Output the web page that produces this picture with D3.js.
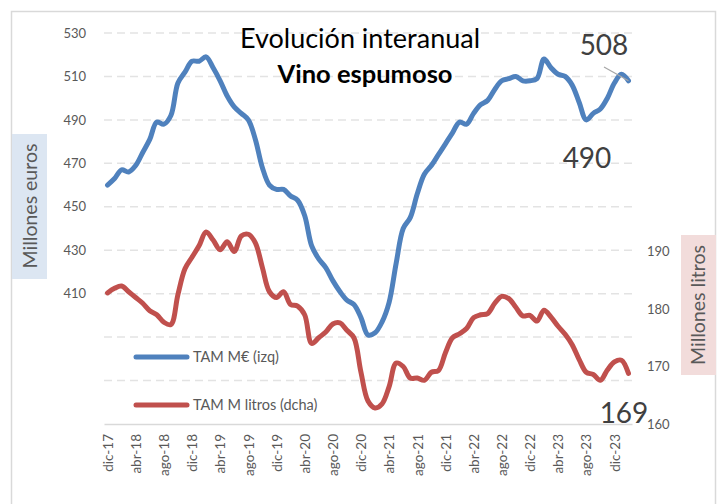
<!DOCTYPE html>
<html>
<head>
<meta charset="utf-8">
<script src="https://cdn.jsdelivr.net/npm/d3@7"></script>
<style>
  body { margin: 0; background: #fff; }
  svg text { font-family: Lato, "Liberation Sans", sans-serif; }
</style>
</head>
<body>
<div id="chart"></div>
<script>

// meses dic-17 .. feb-24
var months = ["dic-17",
  "ene-18","feb-18","mar-18","abr-18","may-18","jun-18","jul-18","ago-18","sep-18","oct-18","nov-18","dic-18",
  "ene-19","feb-19","mar-19","abr-19","may-19","jun-19","jul-19","ago-19","sep-19","oct-19","nov-19","dic-19",
  "ene-20","feb-20","mar-20","abr-20","may-20","jun-20","jul-20","ago-20","sep-20","oct-20","nov-20","dic-20",
  "ene-21","feb-21","mar-21","abr-21","may-21","jun-21","jul-21","ago-21","sep-21","oct-21","nov-21","dic-21",
  "ene-22","feb-22","mar-22","abr-22","may-22","jun-22","jul-22","ago-22","sep-22","oct-22","nov-22","dic-22",
  "ene-23","feb-23","mar-23","abr-23","may-23","jun-23","jul-23","ago-23","sep-23","oct-23","nov-23","dic-23",
  "ene-24","feb-24"];

var tickLabels = ["dic-17","abr-18","ago-18","dic-18","abr-19","ago-19","dic-19","abr-20","ago-20",
  "dic-20","abr-21","ago-21","dic-21","abr-22","ago-22","dic-22","abr-23","ago-23","dic-23"];

// TAM M€ (izq)
var euros = [460, 463, 467, 466, 469, 475, 481, 489, 488, 492, 507, 512, 517,
  517, 519, 514, 508, 501, 496, 493, 490, 481, 468, 460, 458,
  458, 455, 453, 446, 432, 426, 422, 416, 411, 407, 405, 399,
  391, 392, 397, 406, 424, 440, 445, 456, 465, 469, 474, 479,
  484, 489, 488, 493, 497, 499, 504, 508, 509, 510, 508, 508,
  509, 518, 514, 511, 510, 506, 498, 490, 493, 495, 500, 507,
  511, 508];

// TAM M litros (dcha)
var litros = [182.8, 183.6, 184, 183, 182, 181, 179.7, 179, 177.7, 177.3, 182.5, 187, 189,
  191, 193.4, 192, 190.3, 191.7, 190, 192.7, 193, 191.5, 187.2, 183, 182,
  183, 180.8, 180.5, 179, 174, 175, 176, 177.4, 177.6, 176.3, 175, 169,
  164, 162.8, 163.5, 166.5, 170.6, 170, 168, 168, 167.6, 169, 169.3, 172.4,
  175, 175.7, 176.6, 178.5, 179, 179.2, 181, 182.2, 181.8, 180.3, 178.8, 178.9,
  177.9, 179.8, 178.6, 177, 175.6, 173.8, 171.2, 169, 168.6, 167.6, 169.4, 170.8,
  171.1, 168.8];

var leftTicks = [350, 370, 390, 410, 430, 450, 470, 490, 510, 530];
var leftLabels = [410, 430, 450, 470, 490, 510, 530];
var rightTicks = [160, 170, 180, 190];

var width = 718, height = 504;
var blue = "#4f81bd", red = "#c0504d", grey = "#595959";

var svg = d3.select("#chart").append("svg")
    .attr("width", width)
    .attr("height", height);

// marco
svg.append("rect")
    .attr("x", 11.5).attr("y", 11.5)
    .attr("width", 704).attr("height", 500)
    .attr("fill", "#fff")
    .attr("stroke", "#d9d9d9")
    .attr("stroke-width", 1.5);

var x = d3.scalePoint().domain(months).range([104, 632]).padding(0.5);
var yL = d3.scaleLinear().domain([350, 530]).range([424, 33]);
var yR = d3.scaleLinear().domain([160, 190]).range([424, 251.5]);

// rejilla
svg.append("g").selectAll("line")
    .data(leftTicks.slice(1))
    .enter().append("line")
    .attr("x1", 104).attr("x2", 632)
    .attr("y1", function(d) { return yL(d); })
    .attr("y2", function(d) { return yL(d); })
    .attr("stroke", "#e3e3e3")
    .attr("stroke-width", 1.5)
    .attr("stroke-dasharray", "8,5");

// eje x
var xAxis = d3.axisBottom(x)
    .tickValues(tickLabels)
    .tickSize(0)
    .tickPadding(0);
var gx = svg.append("g")
    .attr("transform", "translate(0,424)")
    .call(xAxis);
gx.select(".domain").attr("stroke", "#d9d9d9").attr("stroke-width", 1.5);
gx.selectAll("text")
    .attr("transform", "rotate(-90)")
    .attr("x", -10).attr("y", 0).attr("dy", "0.35em")
    .style("text-anchor", "end")
    .attr("fill", grey)
    .style("font-size", "13.5px");

// eje izq
var gl = svg.append("g")
    .attr("transform", "translate(86,0)")
    .call(d3.axisLeft(yL).tickValues(leftLabels).tickSize(0).tickPadding(0));
gl.select(".domain").remove();
gl.selectAll("text").attr("fill", grey).style("font-size", "13px");

// eje dcha
var gr = svg.append("g")
    .attr("transform", "translate(647,0)")
    .call(d3.axisRight(yR).tickValues(rightTicks).tickSize(0).tickPadding(0));
gr.select(".domain").remove();
gr.selectAll("text").attr("fill", grey).style("font-size", "13px");

// titulos de ejes
svg.append("rect").attr("x", 12).attr("y", 134).attr("width", 35).attr("height", 145).attr("fill", "#dce6f2");
svg.append("text")
    .attr("transform", "translate(37,206) rotate(-90)")
    .attr("text-anchor", "middle")
    .attr("fill", grey)
    .style("font-size", "19.5px")
    .text("Millones euros");

svg.append("rect").attr("x", 681).attr("y", 235).attr("width", 35).attr("height", 140).attr("fill", "#f2dcdb");
svg.append("text")
    .attr("transform", "translate(705,305) rotate(-90)")
    .attr("text-anchor", "middle")
    .attr("fill", grey)
    .style("font-size", "19.5px")
    .text("Millones litros");

// lineas
var lineL = d3.line()
    .x(function(d, i) { return x(months[i]); })
    .y(function(d) { return yL(d); })
    .curve(d3.curveCatmullRom);
var lineR = d3.line()
    .x(function(d, i) { return x(months[i]); })
    .y(function(d) { return yR(d); })
    .curve(d3.curveCatmullRom);

svg.append("path").datum(litros)
    .attr("d", lineR)
    .attr("fill", "none").attr("stroke", red)
    .attr("stroke-width", 5).attr("stroke-linecap", "round").attr("stroke-linejoin", "round");
svg.append("path").datum(euros)
    .attr("d", lineL)
    .attr("fill", "none").attr("stroke", blue)
    .attr("stroke-width", 5).attr("stroke-linecap", "round").attr("stroke-linejoin", "round");

// titulo
svg.append("text")
    .attr("x", 360).attr("y", 48)
    .attr("text-anchor", "middle")
    .style("font-size", "27px")
    .attr("fill", "#000")
    .text("Evolución interanual");
svg.append("text")
    .attr("x", 365).attr("y", 83)
    .attr("text-anchor", "middle")
    .style("font-size", "25.5px")
    .style("font-weight", "bold")
    .attr("fill", "#000")
    .text("Vino espumoso");

// leyenda
var legend = [{name: "TAM M€ (izq)", color: blue, y: 357}, {name: "TAM M litros (dcha)", color: red, y: 405}];
var lg = svg.append("g").selectAll("g").data(legend).enter().append("g");
lg.append("line")
    .attr("x1", 136).attr("x2", 187)
    .attr("y1", function(d) { return d.y; }).attr("y2", function(d) { return d.y; })
    .attr("stroke", function(d) { return d.color; })
    .attr("stroke-width", 5).attr("stroke-linecap", "round");
lg.append("text")
    .attr("x", 193).attr("y", function(d) { return d.y; })
    .attr("dy", "0.35em")
    .attr("fill", grey)
    .style("font-size", "14.5px")
    .text(function(d) { return d.name; });

// etiquetas de datos
var last = months.length - 1;
svg.append("line")
    .attr("x1", 604).attr("y1", 67)
    .attr("x2", x(months[last])).attr("y2", yL(euros[last]))
    .attr("stroke", "#a6a6a6").attr("stroke-width", 1.2);
svg.append("text").attr("x", 604).attr("y", 55).attr("text-anchor", "middle")
    .attr("fill", "#404040").style("font-size", "28px").text(euros[last]);
svg.append("text").attr("x", 587).attr("y", 168).attr("text-anchor", "middle")
    .attr("fill", "#404040").style("font-size", "28px").text(d3.min(euros.slice(60)));
svg.append("text").attr("x", 624).attr("y", 423).attr("text-anchor", "middle")
    .attr("fill", "#404040").style("font-size", "28px").text(Math.round(litros[last]));

</script>
</body>
</html>
